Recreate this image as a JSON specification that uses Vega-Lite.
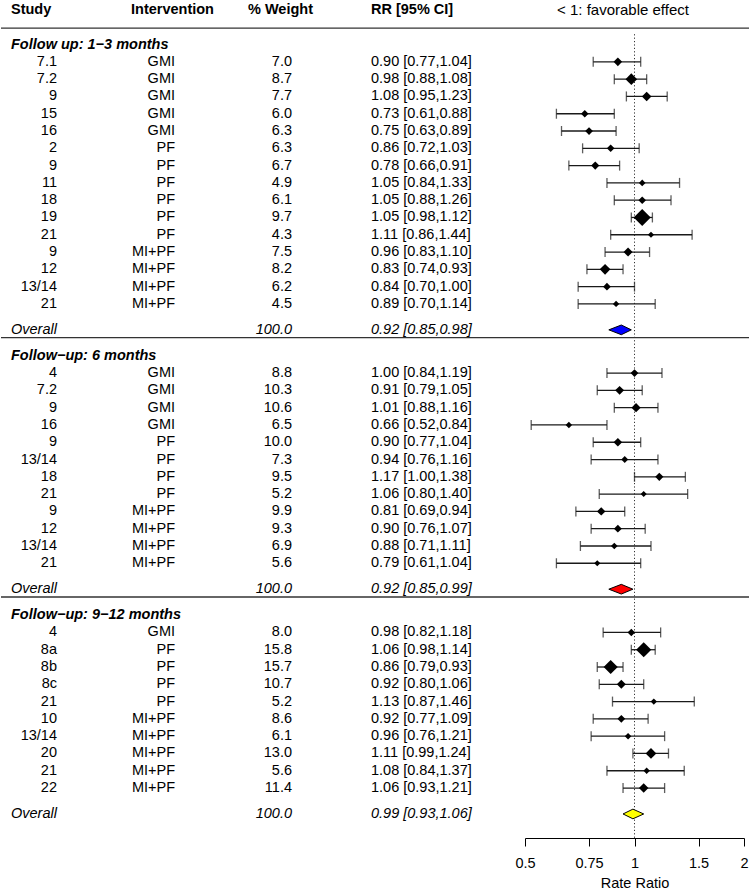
{
  "$schema": "https://vega.github.io/schema/vega-lite/v6.json",
  "width": 749,
  "height": 838,
  "padding": 0,
  "autosize": {"type": "pad"},
  "config": {
    "view": {"stroke": null},
    "font": "Liberation Sans",
    "text": {"font": "Liberation Sans", "fontSize": 14.5, "baseline": "middle", "color": "black"}
  },
  "datasets": {
    "studies": [
      {"sec": 1, "row": 3, "study": "7.1", "interv": "GMI", "weight": 7.0, "rr": 0.90, "lo": 0.77, "hi": 1.04, "ci": "0.90 [0.77,1.04]", "prec": 13.0},
      {"sec": 1, "row": 4, "study": "7.2", "interv": "GMI", "weight": 8.7, "rr": 0.98, "lo": 0.88, "hi": 1.08, "ci": "0.98 [0.88,1.08]", "prec": 19.1},
      {"sec": 1, "row": 5, "study": "9", "interv": "GMI", "weight": 7.7, "rr": 1.08, "lo": 0.95, "hi": 1.23, "ci": "1.08 [0.95,1.23]", "prec": 15.2},
      {"sec": 1, "row": 6, "study": "15", "interv": "GMI", "weight": 6.0, "rr": 0.73, "lo": 0.61, "hi": 0.88, "ci": "0.73 [0.61,0.88]", "prec": 10.7},
      {"sec": 1, "row": 7, "study": "16", "interv": "GMI", "weight": 6.3, "rr": 0.75, "lo": 0.63, "hi": 0.89, "ci": "0.75 [0.63,0.89]", "prec": 11.3},
      {"sec": 1, "row": 8, "study": "2", "interv": "PF", "weight": 6.3, "rr": 0.86, "lo": 0.72, "hi": 1.03, "ci": "0.86 [0.72,1.03]", "prec": 10.9},
      {"sec": 1, "row": 9, "study": "9", "interv": "PF", "weight": 6.7, "rr": 0.78, "lo": 0.66, "hi": 0.91, "ci": "0.78 [0.66,0.91]", "prec": 12.2},
      {"sec": 1, "row": 10, "study": "11", "interv": "PF", "weight": 4.9, "rr": 1.05, "lo": 0.84, "hi": 1.33, "ci": "1.05 [0.84,1.33]", "prec": 8.5},
      {"sec": 1, "row": 11, "study": "18", "interv": "PF", "weight": 6.1, "rr": 1.05, "lo": 0.88, "hi": 1.26, "ci": "1.05 [0.88,1.26]", "prec": 10.9},
      {"sec": 1, "row": 12, "study": "19", "interv": "PF", "weight": 9.7, "rr": 1.05, "lo": 0.98, "hi": 1.12, "ci": "1.05 [0.98,1.12]", "prec": 29.4},
      {"sec": 1, "row": 13, "study": "21", "interv": "PF", "weight": 4.3, "rr": 1.11, "lo": 0.86, "hi": 1.44, "ci": "1.11 [0.86,1.44]", "prec": 7.6},
      {"sec": 1, "row": 14, "study": "9", "interv": "MI+PF", "weight": 7.5, "rr": 0.96, "lo": 0.83, "hi": 1.10, "ci": "0.96 [0.83,1.10]", "prec": 13.9},
      {"sec": 1, "row": 15, "study": "12", "interv": "MI+PF", "weight": 8.2, "rr": 0.83, "lo": 0.74, "hi": 0.93, "ci": "0.83 [0.74,0.93]", "prec": 17.2},
      {"sec": 1, "row": 16, "study": "13/14", "interv": "MI+PF", "weight": 6.2, "rr": 0.84, "lo": 0.70, "hi": 1.00, "ci": "0.84 [0.70,1.00]", "prec": 11.0},
      {"sec": 1, "row": 17, "study": "21", "interv": "MI+PF", "weight": 4.5, "rr": 0.89, "lo": 0.70, "hi": 1.14, "ci": "0.89 [0.70,1.14]", "prec": 8.0},
      {"sec": 2, "row": 21, "study": "4", "interv": "GMI", "weight": 8.8, "rr": 1.00, "lo": 0.84, "hi": 1.19, "ci": "1.00 [0.84,1.19]", "prec": 11.3},
      {"sec": 2, "row": 22, "study": "7.2", "interv": "GMI", "weight": 10.3, "rr": 0.91, "lo": 0.79, "hi": 1.05, "ci": "0.91 [0.79,1.05]", "prec": 13.8},
      {"sec": 2, "row": 23, "study": "9", "interv": "GMI", "weight": 10.6, "rr": 1.01, "lo": 0.88, "hi": 1.16, "ci": "1.01 [0.88,1.16]", "prec": 14.2},
      {"sec": 2, "row": 24, "study": "16", "interv": "GMI", "weight": 6.5, "rr": 0.66, "lo": 0.52, "hi": 0.84, "ci": "0.66 [0.52,0.84]", "prec": 8.2},
      {"sec": 2, "row": 25, "study": "9", "interv": "PF", "weight": 10.0, "rr": 0.90, "lo": 0.77, "hi": 1.04, "ci": "0.90 [0.77,1.04]", "prec": 13.0},
      {"sec": 2, "row": 26, "study": "13/14", "interv": "PF", "weight": 7.3, "rr": 0.94, "lo": 0.76, "hi": 1.16, "ci": "0.94 [0.76,1.16]", "prec": 9.3},
      {"sec": 2, "row": 27, "study": "18", "interv": "PF", "weight": 9.5, "rr": 1.17, "lo": 1.00, "hi": 1.38, "ci": "1.17 [1.00,1.38]", "prec": 12.2},
      {"sec": 2, "row": 28, "study": "21", "interv": "PF", "weight": 5.2, "rr": 1.06, "lo": 0.80, "hi": 1.40, "ci": "1.06 [0.80,1.40]", "prec": 7.0},
      {"sec": 2, "row": 29, "study": "9", "interv": "MI+PF", "weight": 9.9, "rr": 0.81, "lo": 0.69, "hi": 0.94, "ci": "0.81 [0.69,0.94]", "prec": 12.7},
      {"sec": 2, "row": 30, "study": "12", "interv": "MI+PF", "weight": 9.3, "rr": 0.90, "lo": 0.76, "hi": 1.07, "ci": "0.90 [0.76,1.07]", "prec": 11.5},
      {"sec": 2, "row": 31, "study": "13/14", "interv": "MI+PF", "weight": 6.9, "rr": 0.88, "lo": 0.71, "hi": 1.11, "ci": "0.88 [0.71,1.11]", "prec": 8.8},
      {"sec": 2, "row": 32, "study": "21", "interv": "MI+PF", "weight": 5.6, "rr": 0.79, "lo": 0.61, "hi": 1.04, "ci": "0.79 [0.61,1.04]", "prec": 7.3},
      {"sec": 3, "row": 36, "study": "4", "interv": "GMI", "weight": 8.0, "rr": 0.98, "lo": 0.82, "hi": 1.18, "ci": "0.98 [0.82,1.18]", "prec": 10.8},
      {"sec": 3, "row": 37, "study": "8a", "interv": "PF", "weight": 15.8, "rr": 1.06, "lo": 0.98, "hi": 1.14, "ci": "1.06 [0.98,1.14]", "prec": 25.9},
      {"sec": 3, "row": 38, "study": "8b", "interv": "PF", "weight": 15.7, "rr": 0.86, "lo": 0.79, "hi": 0.93, "ci": "0.86 [0.79,0.93]", "prec": 24.0},
      {"sec": 3, "row": 39, "study": "8c", "interv": "PF", "weight": 10.7, "rr": 0.92, "lo": 0.80, "hi": 1.06, "ci": "0.92 [0.80,1.06]", "prec": 13.9},
      {"sec": 3, "row": 40, "study": "21", "interv": "PF", "weight": 5.2, "rr": 1.13, "lo": 0.87, "hi": 1.46, "ci": "1.13 [0.87,1.46]", "prec": 7.6},
      {"sec": 3, "row": 41, "study": "10", "interv": "MI+PF", "weight": 8.6, "rr": 0.92, "lo": 0.77, "hi": 1.09, "ci": "0.92 [0.77,1.09]", "prec": 11.3},
      {"sec": 3, "row": 42, "study": "13/14", "interv": "MI+PF", "weight": 6.1, "rr": 0.96, "lo": 0.76, "hi": 1.21, "ci": "0.96 [0.76,1.21]", "prec": 8.4},
      {"sec": 3, "row": 43, "study": "20", "interv": "MI+PF", "weight": 13.0, "rr": 1.11, "lo": 0.99, "hi": 1.24, "ci": "1.11 [0.99,1.24]", "prec": 17.4},
      {"sec": 3, "row": 44, "study": "21", "interv": "MI+PF", "weight": 5.6, "rr": 1.08, "lo": 0.84, "hi": 1.37, "ci": "1.08 [0.84,1.37]", "prec": 8.0},
      {"sec": 3, "row": 45, "study": "22", "interv": "MI+PF", "weight": 11.4, "rr": 1.06, "lo": 0.93, "hi": 1.21, "ci": "1.06 [0.93,1.21]", "prec": 14.9}
    ],
    "overall": [
      {"sec": "1", "row": 18.5, "label": "Overall", "weight": 100.0, "ci": "0.92 [0.85,0.98]"},
      {"sec": "2", "row": 33.5, "label": "Overall", "weight": 100.0, "ci": "0.92 [0.85,0.99]"},
      {"sec": "3", "row": 46.5, "label": "Overall", "weight": 100.0, "ci": "0.99 [0.93,1.06]"}
    ],
    "polygons": [
      {"sec": "1", "rr": 0.85, "ytop": 18.5, "ybot": 18.5},
      {"sec": "1", "rr": 0.92, "ytop": 18.22, "ybot": 18.78},
      {"sec": "1", "rr": 0.98, "ytop": 18.5, "ybot": 18.5},
      {"sec": "2", "rr": 0.85, "ytop": 33.5, "ybot": 33.5},
      {"sec": "2", "rr": 0.92, "ytop": 33.22, "ybot": 33.78},
      {"sec": "2", "rr": 0.99, "ytop": 33.5, "ybot": 33.5},
      {"sec": "3", "rr": 0.93, "ytop": 46.5, "ybot": 46.5},
      {"sec": "3", "rr": 0.99, "ytop": 46.22, "ybot": 46.78},
      {"sec": "3", "rr": 1.06, "ytop": 46.5, "ybot": 46.5}
    ],
    "titles": [
      {"row": 2, "label": "Follow up: 1−3 months"},
      {"row": 20, "label": "Follow−up: 6 months"},
      {"row": 35, "label": "Follow−up: 9−12 months"}
    ],
    "hlines": [
      {"row": 1.05},
      {"row": 18.95},
      {"row": 33.95}
    ]
  },
  "resolve": {"scale": {"x": "independent"}, "axis": {"x": "independent"}},
  "layer": [
    {
      "layer": [
        {
          "data": {"name": "hlines"},
          "mark": {"type": "rule", "color": "#333333", "strokeWidth": 1.4},
          "encoding": {
            "y": {"field": "row", "type": "quantitative", "scale": {"domain": [-0.578, 47.89], "reverse": true, "nice": false, "zero": false}, "axis": null}
          }
        },
        {
          "data": {"values": [{"label": "Study"}]},
          "mark": {"type": "text", "align": "left", "fontWeight": "bold"},
          "encoding": {
            "x": {"datum": 10, "type": "quantitative", "scale": {"domain": [0, 749], "nice": false, "zero": false}, "axis": null},
            "y": {"datum": 0, "type": "quantitative"},
            "text": {"field": "label"}
          }
        },
        {
          "data": {"values": [{"label": "Intervention"}]},
          "mark": {"type": "text", "align": "left", "fontWeight": "bold"},
          "encoding": {
            "x": {"datum": 130, "type": "quantitative"},
            "y": {"datum": 0, "type": "quantitative"},
            "text": {"field": "label"}
          }
        },
        {
          "data": {"values": [{"label": "% Weight"}]},
          "mark": {"type": "text", "align": "left", "fontWeight": "bold"},
          "encoding": {
            "x": {"datum": 247, "type": "quantitative"},
            "y": {"datum": 0, "type": "quantitative"},
            "text": {"field": "label"}
          }
        },
        {
          "data": {"values": [{"label": "RR [95% CI]"}]},
          "mark": {"type": "text", "align": "left", "fontWeight": "bold"},
          "encoding": {
            "x": {"datum": 370, "type": "quantitative"},
            "y": {"datum": 0, "type": "quantitative"},
            "text": {"field": "label"}
          }
        },
        {
          "data": {"values": [{"label": "< 1: favorable effect"}]},
          "mark": {"type": "text", "align": "center", "fontSize": 15},
          "encoding": {
            "x": {"datum": 622, "type": "quantitative"},
            "y": {"datum": 0, "type": "quantitative"},
            "text": {"field": "label"}
          }
        },
        {
          "data": {"name": "titles"},
          "mark": {"type": "text", "align": "left", "fontWeight": "bold", "fontStyle": "italic"},
          "encoding": {
            "x": {"datum": 10, "type": "quantitative"},
            "y": {"field": "row", "type": "quantitative"},
            "text": {"field": "label"}
          }
        },
        {
          "data": {"name": "overall"},
          "mark": {"type": "text", "align": "left", "fontStyle": "italic"},
          "encoding": {
            "x": {"datum": 10, "type": "quantitative"},
            "y": {"field": "row", "type": "quantitative"},
            "text": {"field": "label"}
          }
        },
        {
          "data": {"name": "overall"},
          "mark": {"type": "text", "align": "right", "fontStyle": "italic"},
          "encoding": {
            "x": {"datum": 291, "type": "quantitative"},
            "y": {"field": "row", "type": "quantitative"},
            "text": {"field": "weight", "type": "quantitative", "format": ".1f"}
          }
        },
        {
          "data": {"name": "overall"},
          "mark": {"type": "text", "align": "left", "fontStyle": "italic"},
          "encoding": {
            "x": {"datum": 370, "type": "quantitative"},
            "y": {"field": "row", "type": "quantitative"},
            "text": {"field": "ci"}
          }
        },
        {
          "data": {"name": "studies"},
          "mark": {"type": "text", "align": "right"},
          "encoding": {
            "x": {"datum": 56, "type": "quantitative"},
            "y": {"field": "row", "type": "quantitative"},
            "text": {"field": "study"}
          }
        },
        {
          "data": {"name": "studies"},
          "mark": {"type": "text", "align": "right"},
          "encoding": {
            "x": {"datum": 174, "type": "quantitative"},
            "y": {"field": "row", "type": "quantitative"},
            "text": {"field": "interv"}
          }
        },
        {
          "data": {"name": "studies"},
          "mark": {"type": "text", "align": "right"},
          "encoding": {
            "x": {"datum": 291, "type": "quantitative"},
            "y": {"field": "row", "type": "quantitative"},
            "text": {"field": "weight", "type": "quantitative", "format": ".1f"}
          }
        },
        {
          "data": {"name": "studies"},
          "mark": {"type": "text", "align": "left"},
          "encoding": {
            "x": {"datum": 370, "type": "quantitative"},
            "y": {"field": "row", "type": "quantitative"},
            "text": {"field": "ci"}
          }
        }
      ]
    },
    {
      "layer": [
        {
          "data": {"values": [{}]},
          "mark": {"type": "rule", "color": "#333333", "strokeWidth": 1, "strokeDash": [1.2, 2.2]},
          "encoding": {
            "x": {"datum": 1, "type": "quantitative",
                  "scale": {"type": "log", "domain": [0.5, 2], "range": [524, 743], "nice": false, "zero": false},
                  "axis": {"orient": "bottom", "values": [0.5, 0.75, 1, 1.5, 2], "format": "~g", "title": "Rate Ratio", "grid": false,
                           "tickSize": 8, "tickColor": "black", "domainColor": "black", "tickWidth": 1, "domainWidth": 1,
                           "labelPadding": 10, "labelFont": "Liberation Sans", "labelFontSize": 14.5, "labelColor": "black",
                           "labelFlush": false, "labelOverlap": false,
                           "titleFont": "Liberation Sans", "titleFontSize": 14.5, "titleFontWeight": "normal", "titleColor": "black", "titlePadding": 7}},
            "y": {"datum": 1.4, "type": "quantitative"},
            "y2": {"datum": 47.89}
          }
        },
        {
          "data": {"name": "studies"},
          "mark": {"type": "rule", "color": "#1a1a1a", "strokeWidth": 1.3},
          "encoding": {
            "x": {"field": "lo", "type": "quantitative", "title": "Rate Ratio"},
            "x2": {"field": "hi"},
            "y": {"field": "row", "type": "quantitative"}
          }
        },
        {
          "data": {"name": "studies"},
          "mark": {"type": "tick", "orient": "vertical", "color": "#1a1a1a", "size": 10, "thickness": 1.3},
          "encoding": {
            "x": {"field": "lo", "type": "quantitative", "title": "Rate Ratio"},
            "y": {"field": "row", "type": "quantitative"}
          }
        },
        {
          "data": {"name": "studies"},
          "mark": {"type": "tick", "orient": "vertical", "color": "#1a1a1a", "size": 10, "thickness": 1.3},
          "encoding": {
            "x": {"field": "hi", "type": "quantitative", "title": "Rate Ratio"},
            "y": {"field": "row", "type": "quantitative"}
          }
        },
        {
          "data": {"name": "studies"},
          "mark": {"type": "point", "shape": "diamond", "filled": true, "color": "black", "opacity": 1},
          "encoding": {
            "x": {"field": "rr", "type": "quantitative", "title": "Rate Ratio"},
            "y": {"field": "row", "type": "quantitative"},
            "size": {"field": "prec", "type": "quantitative", "scale": {"type": "pow", "exponent": 2, "domain": [7, 29.4], "range": [36, 290], "zero": false}, "legend": null}
          }
        },
        {
          "data": {"name": "polygons"},
          "mark": {"type": "area", "orient": "vertical", "stroke": "black", "strokeWidth": 1, "opacity": 1},
          "encoding": {
            "x": {"field": "rr", "type": "quantitative", "title": "Rate Ratio"},
            "y": {"field": "ytop", "type": "quantitative"},
            "y2": {"field": "ybot"},
            "color": {"field": "sec", "type": "nominal", "scale": {"domain": ["1", "2", "3"], "range": ["#0000ff", "#ff0000", "#ffff00"]}, "legend": null}
          }
        }
      ]
    }
  ]
}
